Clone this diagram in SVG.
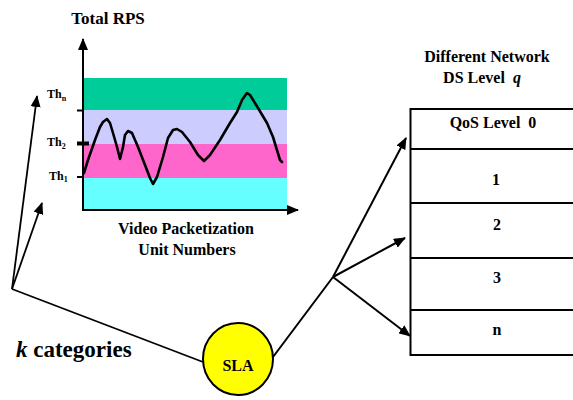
<svg xmlns="http://www.w3.org/2000/svg" width="573" height="400" viewBox="0 0 573 400" font-family="'Liberation Serif', 'Times New Roman', Times, serif" font-weight="bold">
<defs>
<marker id="ah" markerUnits="userSpaceOnUse" markerWidth="12" markerHeight="10" viewBox="0 0 12 10" refX="11" refY="5" orient="auto">
<path d="M0,0 L12,5 L0,10 Z" fill="#000"/>
</marker>
</defs>
<style>
text{fill:#000}
.m{text-anchor:middle}
.ln{stroke:#000;fill:none}
</style>
<rect width="573" height="400" fill="#fff"/>
<g id="chart">
<rect x="83" y="78" width="204" height="32" fill="#00CC99"/>
<rect x="83" y="110" width="204" height="34" fill="#CCCCFF"/>
<rect x="83" y="144" width="204" height="34" fill="#FF66CC"/>
<rect x="83" y="178" width="204" height="31" fill="#66FFFF"/>
<line class="ln" x1="83" y1="210" x2="83" y2="39" stroke-width="2" marker-end="url(#ah)"/>
<line class="ln" x1="82" y1="210" x2="298" y2="210" stroke-width="2" marker-end="url(#ah)"/>
<line class="ln" x1="77" y1="110.5" x2="84" y2="110.5" stroke-width="2"/>
<line class="ln" x1="77" y1="143.5" x2="89" y2="143.5" stroke-width="4"/>
<line class="ln" x1="77" y1="177" x2="84" y2="177" stroke-width="2"/>
<polyline class="ln" stroke-width="2.6" stroke-linejoin="round" stroke-linecap="round" points="84,173 88,160 95,140 100,127 103,122 107,119 110,123 113,133 117,147 120,159 123,147 125,135 128,131 132,133 138,147 145,165 150,178 153,184 157,177 163,157 168,138 173,130 177,129 182,132 190,142 198,155 204,161 210,155 220,140 230,123 237,112 242,100 247,93 250,95 258,108 267,123 273,137 280,160 282,162"/>
<text x="108" y="24" class="m" font-size="17">Total RPS</text>
<text x="47" y="98" font-size="12">Th<tspan font-size="8" dy="2.5">n</tspan></text>
<text x="47" y="146" font-size="12">Th<tspan font-size="8" dy="3">2</tspan></text>
<text x="49" y="180" font-size="12">Th<tspan font-size="8" dy="2">1</tspan></text>
<text x="186" y="234" class="m" font-size="16">Video Packetization</text>
<text x="187" y="255" class="m" font-size="16">Unit Numbers</text>
</g>
<g id="table">
<line class="ln" x1="410.5" y1="108" x2="410.5" y2="356" stroke-width="2"/>
<line class="ln" x1="410" y1="109" x2="573" y2="109" stroke-width="2"/>
<line class="ln" x1="410" y1="149" x2="573" y2="149" stroke-width="2"/>
<line class="ln" x1="410" y1="203" x2="573" y2="203" stroke-width="2"/>
<line class="ln" x1="410" y1="258" x2="573" y2="258" stroke-width="2"/>
<line class="ln" x1="410" y1="310" x2="573" y2="310" stroke-width="2"/>
<line class="ln" x1="410" y1="355" x2="573" y2="355" stroke-width="2"/>
<text x="487" y="62" class="m" font-size="16">Different Network</text>
<text x="482" y="83" class="m" font-size="16" xml:space="preserve">DS Level  <tspan font-style="italic">q</tspan></text>
<text x="493" y="128" class="m" font-size="16" xml:space="preserve">QoS Level  0</text>
<text x="496" y="185" class="m" font-size="16">1</text>
<text x="497" y="230" class="m" font-size="16">2</text>
<text x="497" y="283" class="m" font-size="16">3</text>
<text x="497" y="335" class="m" font-size="16">n</text>
</g>
<g id="sla">
<ellipse cx="238" cy="359" rx="35" ry="36" fill="#FFFF00" stroke="#000" stroke-width="2"/>
<text x="238" y="371" class="m" font-size="16">SLA</text>
</g>
<g id="categories">
<text x="16" y="357" font-size="23"><tspan font-style="italic">k</tspan> categories</text>
</g>
<g id="connectors">
<line class="ln" x1="12" y1="289" x2="37" y2="96" stroke-width="1.8" marker-end="url(#ah)"/>
<line class="ln" x1="12" y1="289" x2="42" y2="203" stroke-width="1.8" marker-end="url(#ah)"/>
<line class="ln" x1="12" y1="289" x2="203" y2="362" stroke-width="1.8"/>
<polyline class="ln" points="273,357 333,277" stroke-width="2"/>
<line class="ln" x1="333" y1="277" x2="406" y2="138" stroke-width="2" marker-end="url(#ah)"/>
<line class="ln" x1="333" y1="277" x2="405" y2="238" stroke-width="2" marker-end="url(#ah)"/>
<line class="ln" x1="333" y1="277" x2="410" y2="336" stroke-width="2" marker-end="url(#ah)"/>
</g>
</svg>
